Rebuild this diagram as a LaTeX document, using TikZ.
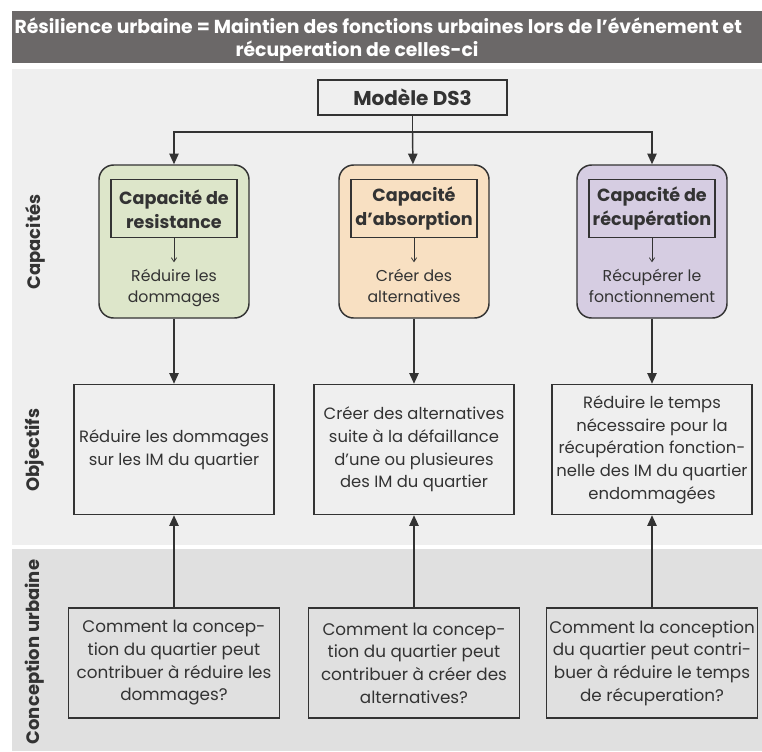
\documentclass[tikz,border=0pt]{standalone}
\usepackage{fontspec}
\setmainfont{Poppins}
\usetikzlibrary{arrows.meta,positioning}
\definecolor{titlegrey}{HTML}{6B6868}
\definecolor{bglight}{HTML}{EFEFEF}
\definecolor{bgdark}{HTML}{E0E0E0}
\definecolor{linegrey}{HTML}{333333}
\definecolor{textgrey}{HTML}{333333}
\definecolor{capgreen}{HTML}{DDE6CA}
\definecolor{caporange}{HTML}{F8E0C2}
\definecolor{cappurple}{HTML}{D6CDE2}

\begin{document}
\begin{tikzpicture}[
  x=0.75pt, y=-0.75pt,
  box/.style={draw=linegrey, line width=1.1pt, align=center, text=textgrey,
              font=\fontsize{12.3}{17}\selectfont, inner sep=1pt},
  capbox/.style={box, rounded corners=11pt, minimum width=112.5pt,
                 minimum height=114.75pt},
  innerbox/.style={draw=linegrey, line width=0.8pt, align=center,
                   text=textgrey, font=\bfseries\fontsize{13.2}{18}\selectfont,
                   minimum width=94.5pt, minimum height=43.5pt, inner sep=1pt},
  goal/.style={align=center, text=textgrey, inner sep=1pt,
               font=\fontsize{11.8}{15.5}\selectfont},
  objbox/.style={box, minimum width=150pt, minimum height=97.5pt},
  askbox/.style={box, font=\fontsize{12.6}{17}\selectfont,
                 minimum width=158pt, minimum height=82.5pt},
  side/.style={rotate=90, text=textgrey, font=\bfseries\fontsize{13.5}{15}\selectfont},
  arr/.style={-{Triangle[length=8pt,width=7pt]}, line width=1.1pt, draw=linegrey},
  small/.style={-{Straight Barb[length=3pt,width=4pt]}, line width=0.6pt, draw=linegrey}
]
\useasboundingbox (0,0) rectangle (762,751);

% background bands
\fill[titlegrey] (12,11) rectangle (762,63);
\fill[bglight] (12,69) rectangle (762,545);
\fill[bgdark] (12,549) rectangle (762,751);

\node (title1) [anchor=west, text=white, font=\bfseries\fontsize{14.1}{18}\selectfont, inner sep=1pt]
  at (13,26) {Résilience urbaine = Maintien des fonctions urbaines lors de l’événement et};
\node (title2) [text=white, font=\bfseries\fontsize{14.1}{18}\selectfont, inner sep=1pt]
  at (357,51) {récuperation de celles-ci};

\node (cap) [side] at (35,242) {Capacités};
\node (obj) [side] at (35,450) {Objectifs};
\node (conc)[side] at (35,652) {Conception urbaine};

\node (model) [box, font=\bfseries\fontsize{15}{18}\selectfont,
               minimum width=141.75pt, minimum height=26.25pt] at (412.5,97.5) {Modèle DS3};
\coordinate (split) at (412.5,132);

% capacites
\node (capL) [capbox, fill=capgreen]  at (174,241.5) {};
\node (capM) [capbox, fill=caporange] at (414,241.5) {};
\node (capR) [capbox, fill=cappurple] at (652,241.5) {};

\node (inL) [innerbox, below=11.25pt of capL.north] {Capacité de\\resistance};
\node (inM) [innerbox, below=11.25pt of capM.north] {Capacité\\d’absorption};
\node (inR) [innerbox, below=11.25pt of capR.north] {Capacité de\\récupération};

\node (gL) [goal, below=22pt of inL] {Réduire les\\dommages};
\node (gM) [goal, below=22pt of inM] {Créer des\\alternatives};
\node (gR) [goal, below=22pt of inR] {Récupérer le\\fonctionnement};

% objectifs
\node (objL) [objbox, below=48.75pt of capL] {Réduire les dommages\\sur les IM du quartier};
\node (objM) [objbox, below=48.75pt of capM] {Créer des alternatives\\suite à la défaillance\\d’une ou plusieures\\des IM du quartier};
\node (objR) [objbox, below=48.75pt of capR] {Réduire le temps\\nécessaire pour la\\récupération fonction-\\nelle des IM du quartier\\endommagées};

% conception urbaine
\node (askL) [askbox, below=69pt of objL] {Comment la concep-\\tion du quartier peut\\contribuer à réduire les\\dommages?};
\node (askM) [askbox, below=69pt of objM] {Comment la concep-\\tion du quartier peut\\contribuer à créer des\\alternatives?};
\node (askR) [askbox, below=69pt of objR] {Comment la conception\\du quartier peut contri-\\buer à réduire le temps\\de récuperation?};

\draw[line width=1.1pt, linegrey] (model) -- (split);
\draw[arr] (split) -| (capL.north);
\draw[arr] (split) -- (capM);
\draw[arr] (split) -| (capR.north);

\draw[small] (inL.south) -- ++(0,24);
\draw[small] (inM.south) -- ++(0,24);
\draw[small] (inR.south) -- ++(0,24);

\draw[arr] (capL) -- (objL);
\draw[arr] (capM) -- (objM);
\draw[arr] (capR) -- (objR);

\draw[arr] (askL) -- (objL);
\draw[arr] (askM) -- (objM);
\draw[arr] (askR) -- (objR);
\end{tikzpicture}
\end{document}
